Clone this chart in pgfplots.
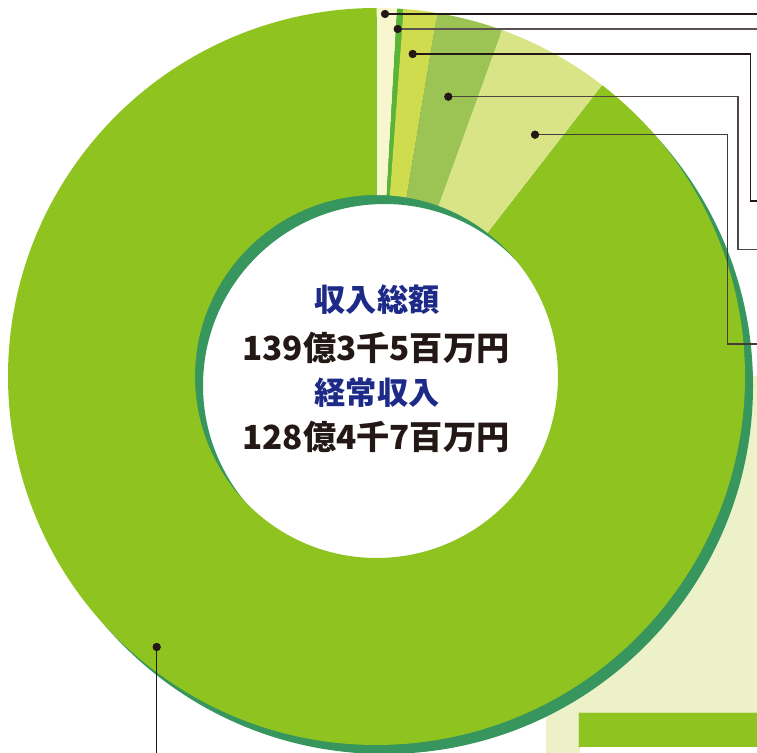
\documentclass[border=0pt]{standalone}
\usepackage{pgfplots}
\usepackage{pgfplotstable}
\pgfplotsset{compat=1.18}
\usepackage{fontspec}
\newfontfamily\jp{Noto Sans CJK JP}
\definecolor{bgcream}{HTML}{ECF1C7}
\definecolor{cBig}{HTML}{8FC31F}
\definecolor{cShadow}{HTML}{36965E}
\definecolor{cA}{HTML}{F7F6CF}
\definecolor{cB}{HTML}{5AB534}
\definecolor{cC}{HTML}{CEDC4E}
\definecolor{cD}{HTML}{9CC454}
\definecolor{cE}{HTML}{D9E486}
\definecolor{navy}{HTML}{1D2A87}
\definecolor{ink}{HTML}{231815}
\definecolor{barborder}{HTML}{D3E5A3}

% shares in percent, clockwise from 12 o'clock
\pgfplotstableread{
name share color
A 0.89 cA
B 0.28 cB
C 1.47 cC
D 2.89 cD
E 4.97 cE
F 89.50 cBig
}\slices

\begin{document}
\begin{tikzpicture}
\begin{axis}[
  x=0.0264583cm, y=0.0264583cm,
  xmin=0, xmax=757, ymin=0, ymax=753,
  at={(0,0)}, anchor=south west,
  hide axis, clip=true,
]
% background pieces
\addplot[draw=none, fill=bgcream] coordinates {(546,-5) (546,377) (762,377) (762,-5)} -- cycle;
% white hole
\fill[white] (axis cs:376.5,376.5) circle[radius=4.802cm];
% shadow annulus
\fill[cShadow, even odd rule] (axis cs:384.5,367.5) circle[radius=9.75cm] (axis cs:384.5,367.5) circle[radius=4.802cm];
% slices
\def\cum{0}
\pgfplotsforeachungrouped \i in {0,...,5}{%
  \pgfplotstablegetelem{\i}{share}\of\slices
  \let\sh\pgfplotsretval
  \pgfmathsetmacro\sa{90-3.6*\cum}%
  \pgfmathsetmacro\cum{\cum+\sh}%
  \pgfmathsetmacro\sb{90-3.6*\cum}%
  \pgfplotstablegetelem{\i}{color}\of\slices
  \edef\temp{\noexpand\fill[\pgfplotsretval] ([shift={(axis cs:376.5,376.5)}]\sa:4.802cm) -- ([shift={(axis cs:376.5,376.5)}]\sa:9.75cm) arc[start angle=\sa, end angle=\sb, radius=9.75cm] -- ([shift={(axis cs:376.5,376.5)}]\sb:4.802cm) arc[start angle=\sb, end angle=\sa, radius=4.802cm] -- cycle;}%
  \temp
}
% green bar bottom right
\addplot[draw=barborder, line width=0.6pt, fill=cBig] coordinates {(578,41) (578,6) (762,6) (762,41)} -- cycle;
\addplot[draw=none, fill=white] coordinates {(580,6) (580,-5) (762,-5) (762,6)} -- cycle;
% leader lines
\addplot[ink, line width=0.9pt] coordinates {(385,739) (762,739)};
\addplot[ink!75, line width=0.9pt] coordinates {(397.7,724) (762,724)};
\addplot[ink, line width=0.9pt] coordinates {(412.7,699) (750.7,699) (750.7,552) (762,552)};
\addplot[ink!80, line width=0.9pt] coordinates {(448.3,656.3) (738,656.3) (738,503.7) (762,503.7)};
\addplot[ink!85, line width=0.9pt] coordinates {(535,618.3) (727.7,618.3) (727.7,409) (762,409)};
\addplot[ink, line width=0.9pt] coordinates {(156.7,106) (156.7,-5)};
\addplot[only marks, mark=*, mark size=2.9pt, ink] coordinates {(385,739) (397.7,724) (412.7,699) (448.3,656.3) (535,618.3) (156.7,106)};
% centre texts
\node[text=navy, font=\jp\bfseries\fontsize{23.5}{27}\selectfont] at (axis cs:377,453) {収入総額};
\node[text=ink, font=\jp\bfseries\fontsize{25}{29}\selectfont] at (axis cs:376,405) {139億3千5百万円};
\node[text=navy, font=\jp\bfseries\fontsize{23.5}{27}\selectfont] at (axis cs:377,360) {経常収入};
\node[text=ink, font=\jp\bfseries\fontsize{25}{29}\selectfont] at (axis cs:376,316) {128億4千7百万円};
\end{axis}
\pgfresetboundingbox
\path (0,0) rectangle (20.0289cm,19.9231cm);
\end{tikzpicture}
\end{document}
